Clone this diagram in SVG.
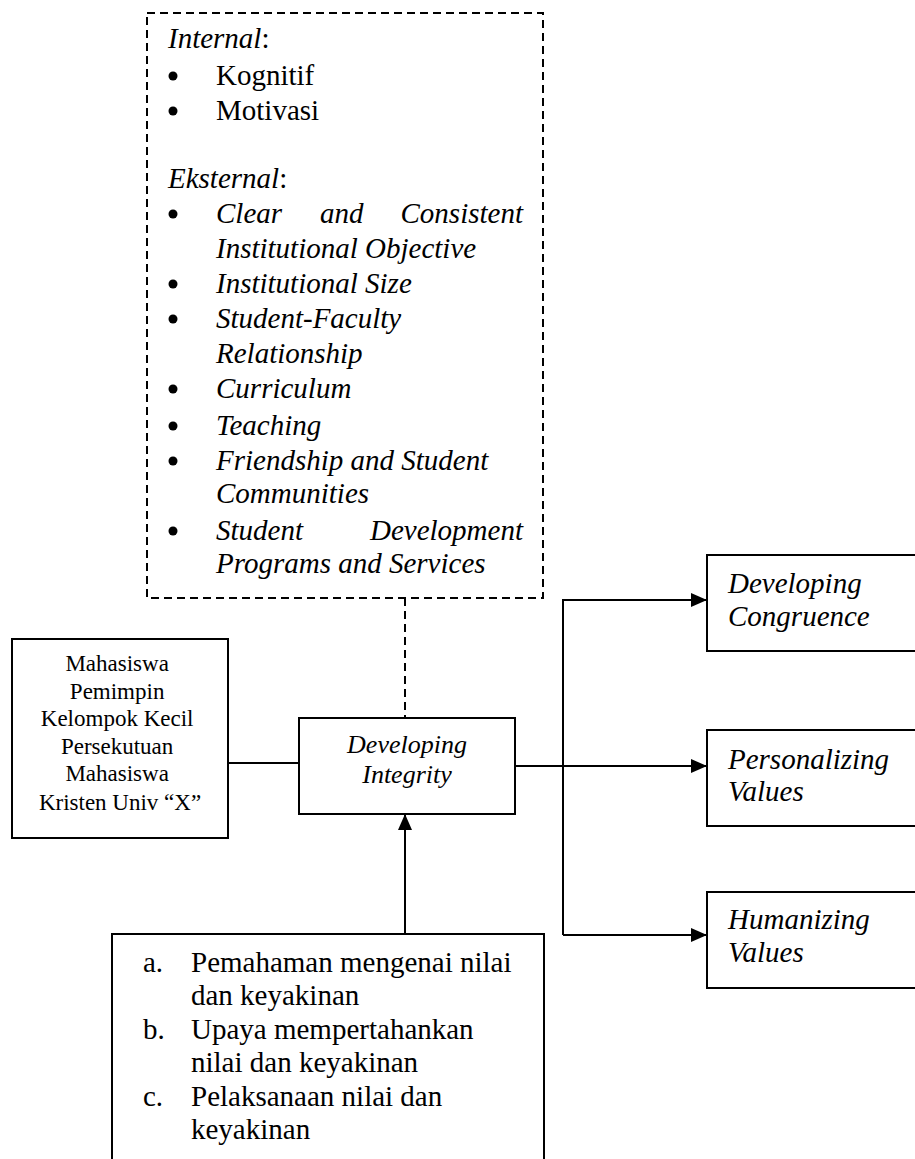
<svg xmlns="http://www.w3.org/2000/svg" width="915" height="1159" viewBox="0 0 915 1159">
<style>
.box{fill:#fff;stroke:#000;stroke-width:2}
.dash{fill:none;stroke:#000;stroke-width:2;stroke-dasharray:8 5}
.ln{fill:none;stroke:#000;stroke-width:2}
.t{font-family:"Liberation Serif","Times New Roman",serif;font-size:29px;fill:#000}
.i{font-style:italic}
.s{font-size:23px}
.m{font-size:26px}
</style>
<defs>
<marker id="ah" viewBox="0 0 16 14" refX="16" refY="7" markerWidth="16" markerHeight="14" markerUnits="userSpaceOnUse" orient="auto">
<path d="M0,0 L16,7 L0,14 Z" fill="#000"/>
</marker>
</defs>

<g id="factors">
<rect class="dash" x="147" y="13" width="396" height="585"/>
<text class="t"><tspan class="i" x="168" y="48">Internal</tspan><tspan>:</tspan></text>
<circle cx="173" cy="76" r="4.5"/><text class="t" x="216" y="85">Kognitif</text>
<circle cx="173" cy="111" r="4.5"/><text class="t" x="216" y="120">Motivasi</text>
<text class="t"><tspan class="i" x="168" y="188">Eksternal</tspan><tspan>:</tspan></text>
<circle cx="173" cy="214" r="4.5"/>
<text class="t i" x="216" y="223">Clear</text><text class="t i" x="320" y="223">and</text><text class="t i" x="523" y="223" text-anchor="end">Consistent</text>
<text class="t i" x="216" y="258">Institutional Objective</text>
<circle cx="173" cy="284" r="4.5"/><text class="t i" x="216" y="293">Institutional Size</text>
<circle cx="173" cy="319" r="4.5"/><text class="t i" x="216" y="328">Student-Faculty</text>
<text class="t i" x="216" y="363">Relationship</text>
<circle cx="173" cy="389" r="4.5"/><text class="t i" x="216" y="398">Curriculum</text>
<circle cx="173" cy="426" r="4.5"/><text class="t i" x="216" y="435">Teaching</text>
<circle cx="173" cy="461" r="4.5"/><text class="t i" x="216" y="470">Friendship and Student</text>
<text class="t i" x="216" y="503">Communities</text>
<circle cx="173" cy="531" r="4.5"/>
<text class="t i" x="216" y="540">Student</text><text class="t i" x="523" y="540" text-anchor="end">Development</text>
<text class="t i" x="216" y="573">Programs and Services</text>
</g>

<g id="subject">
<rect class="box" x="12" y="639" width="216" height="199"/>
<text class="t s" text-anchor="middle">
<tspan x="120" y="671">Mahasiswa</tspan>
<tspan x="120" y="699">Pemimpin</tspan>
<tspan x="120" y="726">Kelompok Kecil</tspan>
<tspan x="120" y="754">Persekutuan</tspan>
<tspan x="120" y="781">Mahasiswa</tspan>
<tspan x="120" y="810">Kristen Univ “X”</tspan>
</text>
</g>

<g id="integrity">
<rect class="box" x="299" y="718" width="216" height="96"/>
<text class="t m i" text-anchor="middle"><tspan x="407" y="753">Developing</tspan><tspan x="407" y="783">Integrity</tspan></text>
</g>

<g id="congruence">
<rect class="box" x="707" y="555" width="220" height="96"/>
<text class="t i"><tspan x="728" y="593">Developing</tspan><tspan x="728" y="626">Congruence</tspan></text>
</g>

<g id="personalizing">
<rect class="box" x="707" y="730" width="220" height="96"/>
<text class="t i"><tspan x="728" y="769">Personalizing</tspan><tspan x="728" y="801">Values</tspan></text>
</g>

<g id="humanizing">
<rect class="box" x="707" y="892" width="220" height="96"/>
<text class="t i"><tspan x="728" y="929">Humanizing</tspan><tspan x="728" y="962">Values</tspan></text>
</g>

<g id="aspects">
<rect class="box" x="112" y="934" width="432" height="240"/>
<text class="t"><tspan x="143" y="972">a.</tspan><tspan x="191" y="972">Pemahaman mengenai nilai</tspan></text>
<text class="t" x="191" y="1005">dan keyakinan</text>
<text class="t"><tspan x="143" y="1039">b.</tspan><tspan x="191" y="1039">Upaya mempertahankan</tspan></text>
<text class="t" x="191" y="1072">nilai dan keyakinan</text>
<text class="t"><tspan x="143" y="1106">c.</tspan><tspan x="191" y="1106">Pelaksanaan nilai dan</tspan></text>
<text class="t" x="191" y="1139">keyakinan</text>
</g>

<g id="connectors">
<line class="dash" x1="405" y1="598" x2="405" y2="718"/>
<line class="ln" x1="228" y1="763" x2="299" y2="763"/>
<line class="ln" x1="405" y1="934" x2="405" y2="814" marker-end="url(#ah)"/>
<line class="ln" x1="515" y1="766" x2="707" y2="766" marker-end="url(#ah)"/>
<polyline class="ln" points="563,935 563,600 707,600" marker-end="url(#ah)"/>
<line class="ln" x1="563" y1="935" x2="707" y2="935" marker-end="url(#ah)"/>
</g>
</svg>
